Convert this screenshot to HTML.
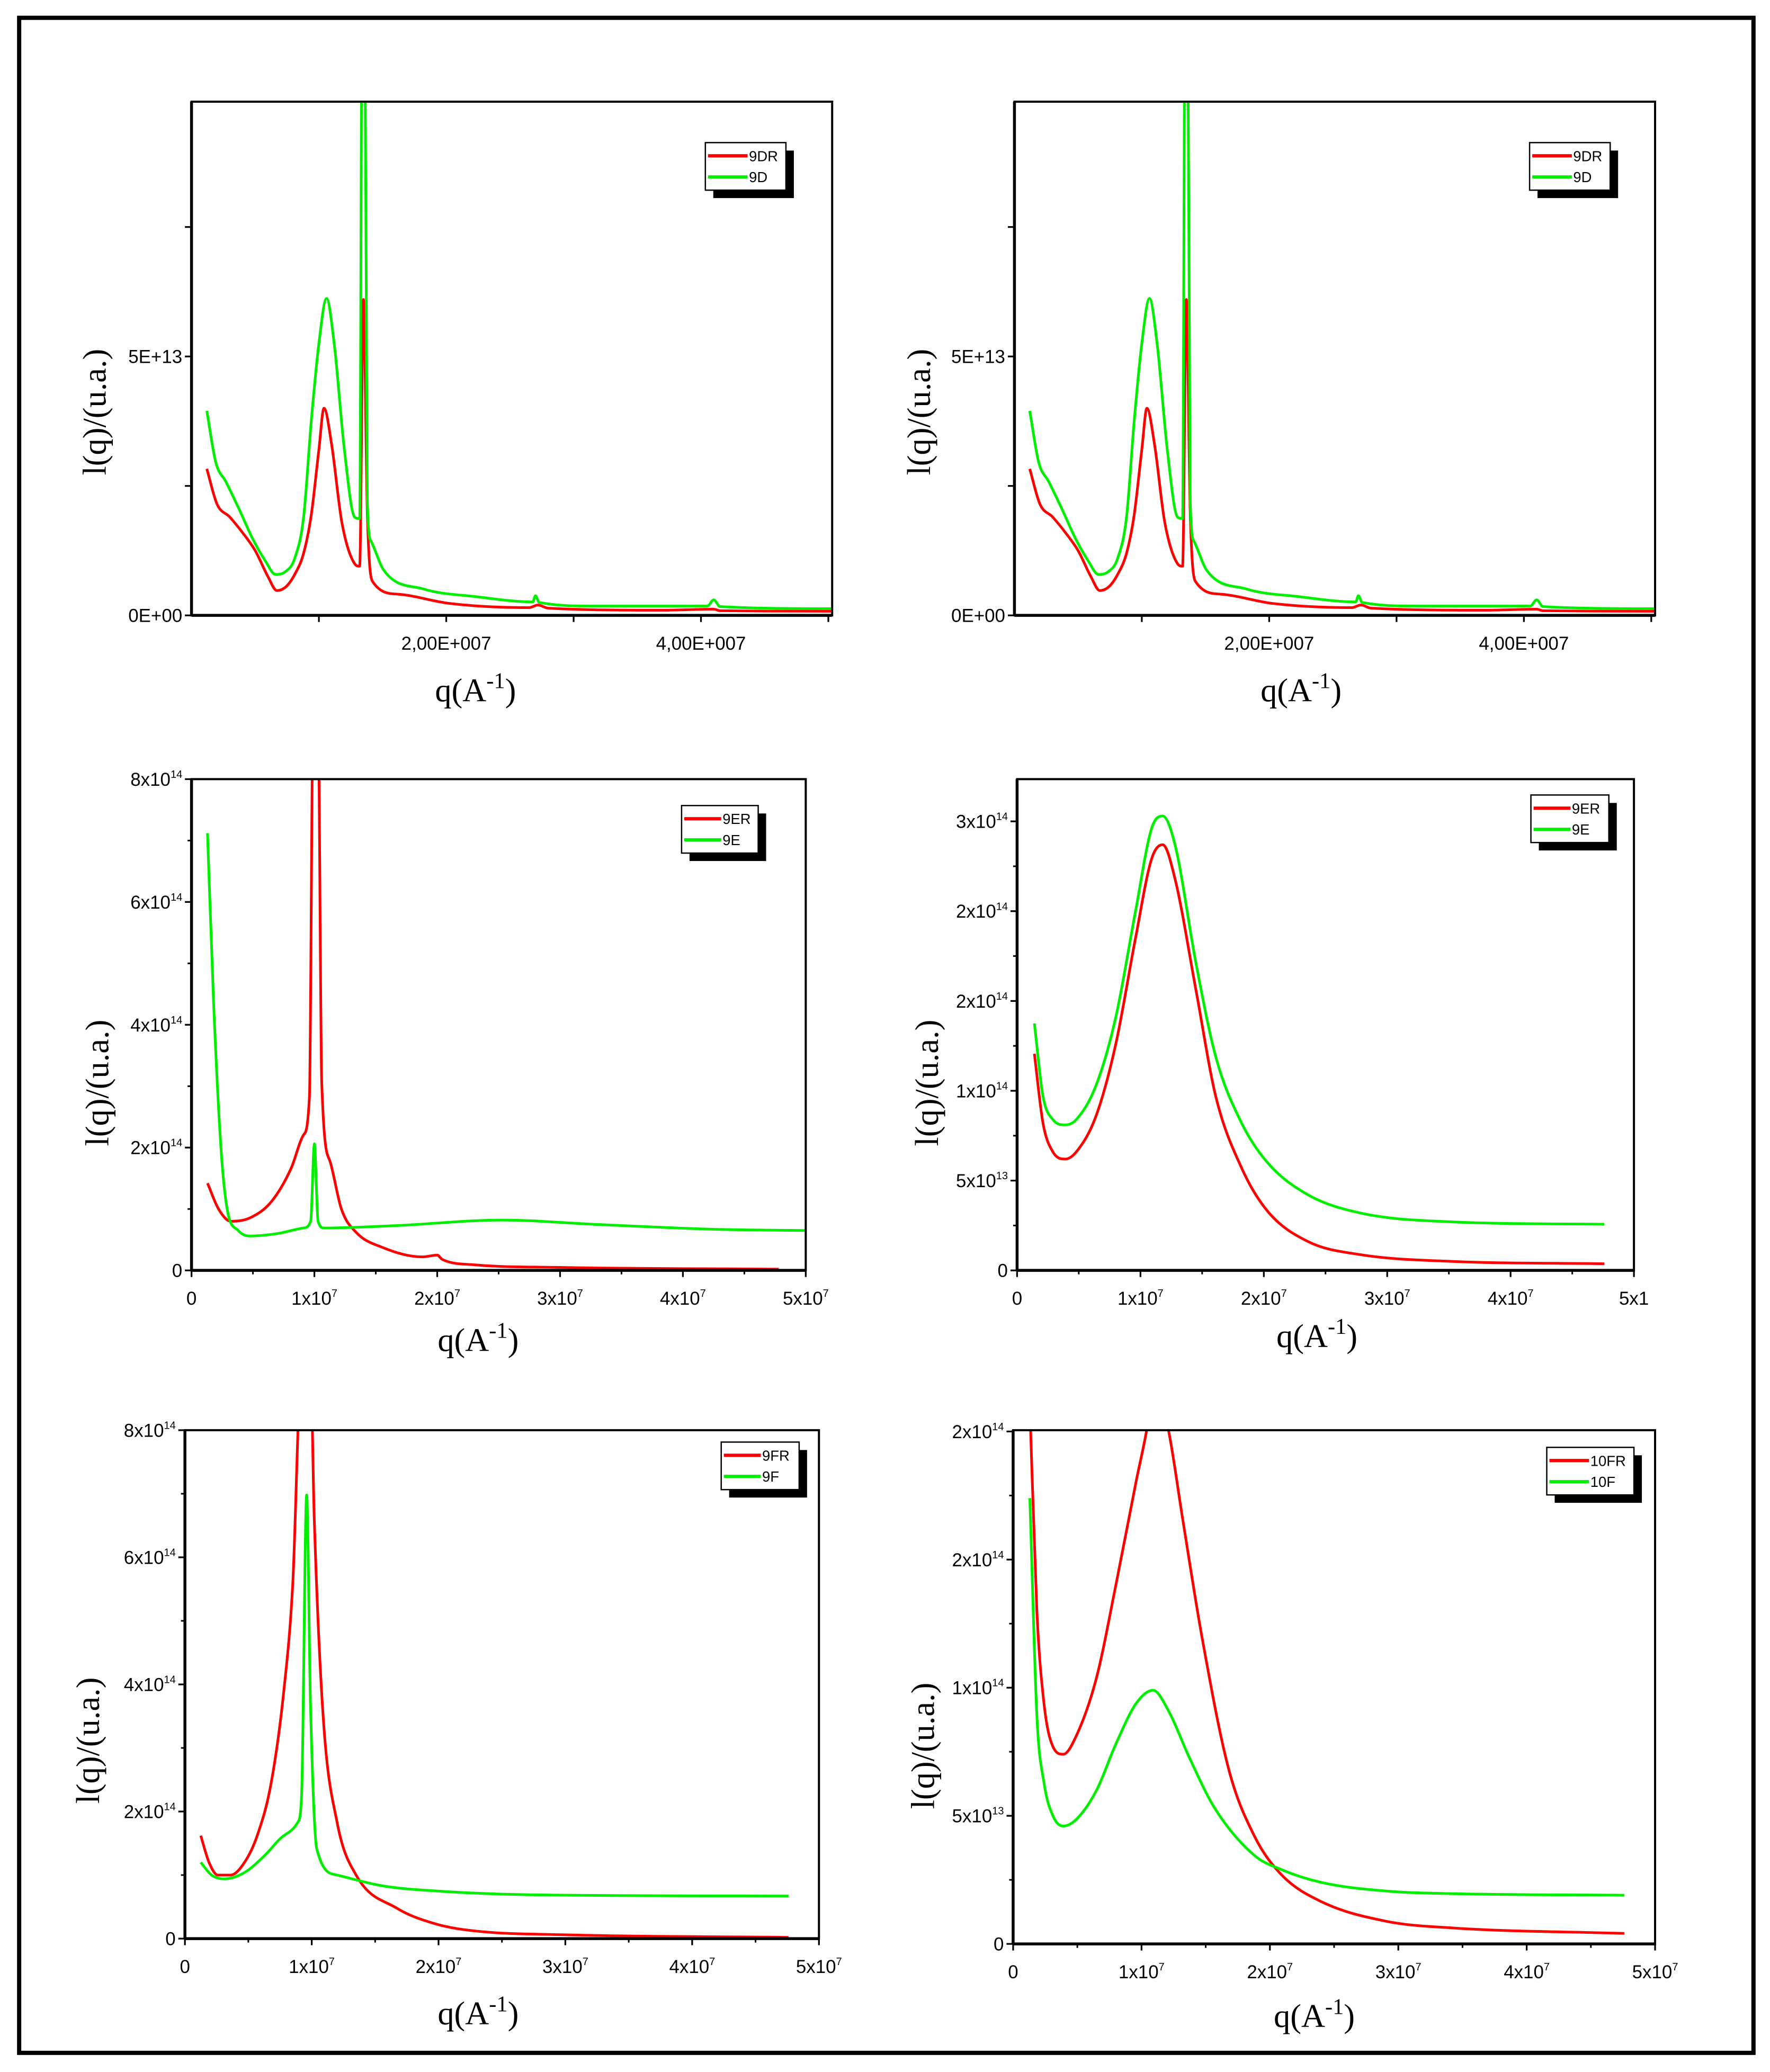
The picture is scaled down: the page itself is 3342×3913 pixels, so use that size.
<!DOCTYPE html>
<html><head><meta charset="utf-8"><title>SAXS curves</title>
<style>
html,body{margin:0;padding:0;background:#fff;}
svg{display:block;}
.tk{font-family:"Liberation Sans",sans-serif;font-size:14px;fill:#000;}
.ti{font-family:"Liberation Serif",serif;font-size:25px;fill:#000;}
.lg{font-family:"Liberation Sans",sans-serif;font-size:11px;fill:#000;}
</style></head>
<body>
<svg id="fig" width="3342" height="3913" viewBox="0 0 1340 1569" preserveAspectRatio="none" xmlns="http://www.w3.org/2000/svg">
<rect x="14.5" y="13.5" width="1313" height="1541" fill="none" stroke="#000" stroke-width="3.2"/>
</svg>
<script>
// ---- data (q in units of 1e7 A^-1, intensity in panel units) ----
const q9DR = [0.12,0.2,0.3,0.4,0.5,0.6,0.67,0.74,0.81,0.88,0.94,1.0,1.04,1.1,1.18,1.28,1.32,1.35,1.38,1.42,1.62,2.03,2.65,2.72,2.8,3.7,4.1,4.15,5.04];
const v9DR = [2.83,2.15,1.9,1.6,1.25,0.75,0.48,0.55,0.79,1.2,1.94,3.2,4.0,3.3,1.8,1.0,0.95,6.1,2.0,0.66,0.41,0.23,0.15,0.2,0.14,0.1,0.12,0.09,0.08];
const q9D = [0.12,0.19,0.27,0.37,0.48,0.58,0.66,0.74,0.81,0.88,0.94,1.0,1.06,1.12,1.2,1.28,1.32,1.34,1.36,1.38,1.41,1.51,1.82,2.24,2.68,2.7,2.73,3.17,4.05,4.1,4.15,5.04];
const v9D = [3.95,2.96,2.58,2.07,1.48,1.05,0.79,0.85,1.1,1.9,3.75,5.25,6.12,5.25,3.2,1.9,1.87,12,12,2.2,1.43,0.87,0.51,0.36,0.26,0.38,0.25,0.18,0.18,0.3,0.17,0.13];
const q9ER = [0.13,0.22,0.32,0.48,0.65,0.81,0.91,0.96,0.99,1.03,1.06,1.13,1.22,1.34,1.56,1.88,2.0,2.04,2.31,2.96,4.78];
const v9ER = [1.42,1.0,0.8,0.86,1.12,1.66,2.2,2.84,9,9,3.05,1.76,1.0,0.62,0.37,0.22,0.25,0.18,0.09,0.05,0.02];
const q9E = [0.13,0.18,0.24,0.29,0.38,0.48,0.7,0.91,0.97,1.0,1.03,1.08,1.67,2.53,3.28,4.25,5.0];
const v9E = [7.12,4.34,1.98,1.0,0.65,0.56,0.6,0.69,0.8,2.06,0.8,0.69,0.73,0.82,0.75,0.67,0.65];
const q9ER2 = [0.14,0.21,0.29,0.39,0.48,0.64,0.8,0.96,1.09,1.18,1.28,1.45,1.61,1.82,2.03,2.36,2.78,3.53,4.76];
const v9ER2 = [12.06,8.2,6.6,6.2,6.6,8.6,12.6,18.5,22.9,23.7,21.8,15.6,9.7,5.7,3.3,1.6,0.88,0.5,0.37];
const v9E2 = [13.75,9.7,8.4,8.1,8.4,10.3,14.1,20,24.6,25.3,23.7,17.1,11.9,8.2,6.0,4.2,3.2,2.7,2.57];
const q9FR = [0.125,0.19,0.26,0.36,0.47,0.57,0.68,0.78,0.85,0.92,0.99,1.02,1.09,1.2,1.35,1.67,1.98,2.29,3.0,4.76];
const v9FR = [1.62,1.2,1.0,1.0,1.2,1.62,2.45,3.9,5.57,9,9,6.6,3.5,1.83,1.0,0.48,0.23,0.12,0.06,0.02];
const q9F = [0.125,0.21,0.31,0.47,0.625,0.78,0.89,0.92,0.96,0.99,1.04,1.2,1.56,1.98,2.71,4.76];
const v9F = [1.2,1.0,0.94,1.04,1.3,1.62,1.83,2.25,6.98,3.7,1.41,1.0,0.83,0.75,0.69,0.67];
const q10FR = [0.13,0.185,0.24,0.31,0.39,0.49,0.65,0.8,0.96,1.04,1.1,1.21,1.32,1.47,1.68,1.88,2.09,2.4,2.91,3.43,4.76];
const v10FR = [21,13,9.4,7.7,7.4,8.1,10.4,14.0,18.1,20.05,22,20.05,16.6,12.0,6.8,4.2,2.7,1.65,0.88,0.62,0.41];
const q10F = [0.13,0.185,0.24,0.31,0.39,0.49,0.65,0.8,0.96,1.09,1.21,1.37,1.57,1.88,2.09,2.4,2.91,3.43,4.76];
const v10F = [17.4,8.9,6.3,5.0,4.6,4.85,6.0,7.8,9.4,9.9,9.1,7.3,5.3,3.45,2.9,2.4,2.06,1.96,1.9];

const xTicksA = [1,2,3,4,5];
const xLabelsA = ["","2,00E+007","","4,00E+007",""];
const yTicksA = [0,2.5,5,7.5];
const yLabelsA = ["0E+00","","5E+13",""];
const xTicksB = [0,1,2,3,4,5];
const xLabelsB = ["0","1x10|7","2x10|7","3x10|7","4x10|7","5x10|7"];
const xLabelsB4 = ["0","1x10|7","2x10|7","3x10|7","4x10|7","5x1"];
const yTicks8 = [0,2,4,6,8];
const yLabels8 = ["0","2x10|14","4x10|14","6x10|14","8x10|14"];
const yTicks4 = [0,5,10,15,20,25];
const yLabels4 = ["0","5x10|13","1x10|14","2x10|14","2x10|14","3x10|14"];
const yTicks6 = [0,5,10,15,20];
const yLabels6 = ["0","5x10|13","1x10|14","2x10|14","2x10|14"];

const NS="http://www.w3.org/2000/svg";
const svg=document.getElementById('fig');
function mk(tag,attrs,parent){const e=document.createElementNS(NS,tag);for(const k in attrs)e.setAttribute(k,attrs[k]);(parent||svg).appendChild(e);return e;}
function label(parent,txt,x,y,anchor,cls){
  const t=mk('text',{x:x,y:y,'text-anchor':anchor,'class':cls},parent);
  const parts=txt.split('|');
  t.appendChild(document.createTextNode(parts[0]));
  if(parts[1]){const s=mk('tspan',{dy:-6,'font-size':8},t);s.textContent=parts[1];}
  return t;
}
// monotone cubic path (no overshoot)
function monoPath(xs,ys){
  const n=xs.length;
  if(n<2) return '';
  const d=[],m=new Array(n);
  for(let i=0;i<n-1;i++) d.push((ys[i+1]-ys[i])/(xs[i+1]-xs[i]));
  m[0]=d[0];m[n-1]=d[n-2];
  for(let i=1;i<n-1;i++){ m[i]=(d[i-1]*d[i]<=0)?0:(d[i-1]+d[i])/2; }
  for(let i=0;i<n-1;i++){
    if(d[i]===0){m[i]=0;m[i+1]=0;continue;}
    const a=m[i]/d[i],b=m[i+1]/d[i],s=a*a+b*b;
    if(s>9){const t=3/Math.sqrt(s);m[i]=t*a*d[i];m[i+1]=t*b*d[i];}
  }
  let p='M'+xs[0].toFixed(2)+','+ys[0].toFixed(2);
  for(let i=0;i<n-1;i++){
    const h=(xs[i+1]-xs[i])/3;
    p+='C'+(xs[i]+h).toFixed(2)+','+(ys[i]+m[i]*h).toFixed(2)+' '+(xs[i+1]-h).toFixed(2)+','+(ys[i+1]-m[i+1]*h).toFixed(2)+' '+xs[i+1].toFixed(2)+','+ys[i+1].toFixed(2);
  }
  return p;
}
let pid=0;
function panel(c){
  pid++;
  const g=mk('g',{});
  
  
  const X=v=>c.x0+(v-c.xmin)/(c.xmax-c.xmin)*(c.x1-c.x0);
  const Y=v=>c.y1-(v-c.ymin)/(c.ymax-c.ymin)*(c.y1-c.y0);
  const cp='clip'+pid;
  const d=mk('clipPath',{id:cp},g);mk('rect',{x:c.x0,y:c.y0,width:c.x1-c.x0,height:c.y1-c.y0},d);
  c.series.forEach(s=>{
    const p=monoPath(s.q.map(X),s.v.map(Y));
    const path=mk('path',{d:p,fill:'none',stroke:s.color,'stroke-width':2,'stroke-linejoin':'round','clip-path':'url(#'+cp+')'},g);
    
    
  });
  const fr=mk('rect',{x:c.x0,y:c.y0,width:c.x1-c.x0,height:c.y1-c.y0,fill:'none',stroke:'#000','stroke-width':1.6},g);
  
  
  mk('line',{x1:c.x0,y1:c.y1,x2:c.x1,y2:c.y1,stroke:'#000','stroke-width':2.2},g);
  mk('line',{x1:c.x0,y1:c.y0,x2:c.x0,y2:c.y1,stroke:'#000','stroke-width':2.2},g);
  c.xt.forEach((t,i)=>{
    mk('line',{x1:X(t),y1:c.y1,x2:X(t),y2:c.y1+5,stroke:'#000','stroke-width':1.3},g);
    if(c.xminor){const m=t+c.xminor; if(m<c.xmax) mk('line',{x1:X(m),y1:c.y1,x2:X(m),y2:c.y1+3,stroke:'#000','stroke-width':1.2},g);}
    if(c.xl[i]){const l=label(g,c.xl[i],X(t),c.y1+26,'middle','tk');}
  });
  c.yt.forEach((t,i)=>{
    mk('line',{x1:c.x0-5,y1:Y(t),x2:c.x0,y2:Y(t),stroke:'#000','stroke-width':1.3},g);
    if(c.yminor){const m=t+c.yminor; if(m<c.ymax) mk('line',{x1:c.x0-3,y1:Y(m),x2:c.x0,y2:Y(m),stroke:'#000','stroke-width':1.2},g);}
    if(c.yl[i]){const l=label(g,c.yl[i],c.x0-7,Y(t)+5,'end','tk');}
  });
  const xt=mk('text',{x:c.xtx,y:c.xty,'text-anchor':'middle','class':'ti'},g);
  
  
  xt.appendChild(document.createTextNode('q(A'));
  const sp=mk('tspan',{dy:-10,'font-size':17},xt);sp.textContent='-1';
  const sp2=mk('tspan',{dy:10},xt);sp2.textContent=')';
  const yt=mk('text',{x:0,y:0,'text-anchor':'middle','class':'ti',transform:'translate('+c.ytx+','+c.yty+') rotate(-90)'},g);
  
  
  yt.textContent='l(q)/(u.a.)';
  const lg=mk('g',{},g);
  
  
  const L=c.leg;
  mk('rect',{x:L.x+6,y:L.y+6,width:L.w,height:36,fill:'#000'},lg);
  mk('rect',{x:L.x,y:L.y,width:L.w,height:36,fill:'#fff',stroke:'#000','stroke-width':1},lg);
  c.series.forEach((s,i)=>{
    const e=mk('g',{},lg);
    
    
    mk('line',{x1:L.x+2,y1:L.y+10+i*16,x2:L.x+L.lw,y2:L.y+10+i*16,stroke:s.color,'stroke-width':2.5},e);
    const t=mk('text',{x:L.x+L.lw+1,y:L.y+14+i*16,'class':'lg'},e);t.textContent=s.name;
  });
}
const R='#ff0000',G='#00ee00';
const p1={x0:145,x1:630,y0:77,y1:466,xmin:0,xmax:5.03,ymin:0,ymax:9.92,xt:xTicksA,xl:xLabelsA,yt:yTicksA,yl:yLabelsA,
  series:[{name:'9DR',color:R,q:q9DR,v:v9DR},{name:'9D',color:G,q:q9D,v:v9D}],leg:{x:534,y:108,w:61,lw:32},xtx:360,xty:531,ytx:80,yty:312};
panel(p1);
panel(Object.assign({},p1,{x0:768,x1:1253,leg:{x:1158,y:108,w:61,lw:32},xtx:985,ytx:704}));
panel({x0:145,x1:610,y0:590,y1:962,xmin:0,xmax:5,ymin:0,ymax:8,xt:xTicksB,xl:xLabelsB,xminor:0.5,yt:yTicks8,yl:yLabels8,yminor:1,
  series:[{name:'9ER',color:R,q:q9ER,v:v9ER},{name:'9E',color:G,q:q9E,v:v9E}],leg:{x:516,y:610,w:58,lw:30},xtx:362,xty:1023,ytx:82,yty:820});
panel({x0:770,x1:1237,y0:590,y1:962,xmin:0,xmax:5,ymin:0,ymax:27.35,xt:xTicksB,xl:xLabelsB4,xminor:0.5,yt:yTicks4,yl:yLabels4,yminor:2.5,
  series:[{name:'9ER',color:R,q:q9ER2,v:v9ER2},{name:'9E',color:G,q:q9ER2,v:v9E2}],leg:{x:1159,y:602,w:59,lw:30},xtx:997,xty:1020,ytx:710,yty:820});
panel({x0:140,x1:620,y0:1083,y1:1468,xmin:0,xmax:5,ymin:0,ymax:8,xt:xTicksB,xl:xLabelsB,xminor:0.5,yt:yTicks8,yl:yLabels8,yminor:1,
  series:[{name:'9FR',color:R,q:q9FR,v:v9FR},{name:'9F',color:G,q:q9F,v:v9F}],leg:{x:546,y:1092,w:59,lw:30},xtx:362,xty:1533,ytx:75,yty:1318});
panel({x0:767,x1:1253,y0:1083,y1:1472,xmin:0,xmax:5,ymin:0,ymax:20.05,xt:xTicksB,xl:xLabelsB,xminor:0.5,yt:yTicks6,yl:yLabels6,yminor:2.5,
  series:[{name:'10FR',color:R,q:q10FR,v:v10FR},{name:'10F',color:G,q:q10F,v:v10F}],leg:{x:1171,y:1096,w:66,lw:32},xtx:995,xty:1535,ytx:707,yty:1322});
</script>
</body></html>
